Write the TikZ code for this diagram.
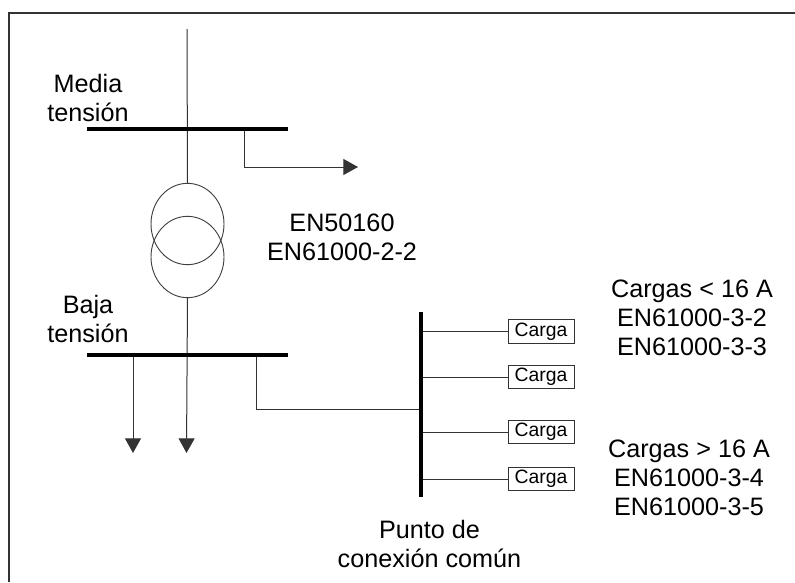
\documentclass[tikz,border=0pt]{standalone}
\usepackage{fontspec}
\setmainfont{Liberation Sans}
\usetikzlibrary{arrows.meta,shapes.geometric}
\begin{document}
\begin{tikzpicture}[
  x=0.75pt, y=-0.75pt,
  label/.style={align=center, inner sep=0pt, font=\fontsize{18.9pt}{21.75pt}\selectfont},
  carga/.style={draw=black!80, line width=0.7pt, inner sep=0pt, minimum width=49.5pt, minimum height=17.5pt, font=\fontsize{14.5pt}{16pt}\selectfont},
  winding/.style={ellipse, draw=black!75, line width=0.7pt, inner sep=0pt, minimum width=54.75pt, minimum height=61pt},
  bus/.style={line width=2.6pt, black},
  feeder/.style={line width=0.75pt, draw=black!80},
  load/.style={feeder, -{Triangle[length=11pt, width=12pt]}},
  >=stealth
]
  \useasboundingbox (0,0) rectangle (795,582);
  \draw[line width=1.5pt, black!80] (9,582) -- (9,13) -- (795,13);

  \coordinate (feed) at (187,29);
  \coordinate (mtleft) at (87,129);
  \coordinate (mtright) at (288,129);
  \coordinate (mttap) at (244,129);
  \coordinate (mtbend) at (244,167);
  \coordinate (mtend) at (358,167);
  \coordinate (btleft) at (87,355);
  \coordinate (btright) at (288,355);
  \coordinate (bttap) at (256,355);
  \coordinate (btbend) at (256,409);
  \coordinate (btload) at (133,355);
  \coordinate (btloadend) at (133,453);
  \coordinate (lowend) at (186.5,453);
  \coordinate (pcctop) at (421,312);
  \coordinate (pccbot) at (421,497);
  \coordinate (pccin) at (421,409);
  \coordinate (pcca) at (421,331.5);
  \coordinate (pccb) at (421,377);
  \coordinate (pccc) at (421,432);
  \coordinate (pccd) at (421,479);

  \node[winding] (upper) at (187.5,224) {};
  \node[winding] (lower) at (187.5,257) {};

  \node[carga] (cargaa) at (541,331.5) {Carga};
  \node[carga] (cargab) at (541,377) {Carga};
  \node[carga] (cargac) at (541,432) {Carga};
  \node[carga] (cargad) at (541,479) {Carga};

  \node[label] (media) at (88,98) {Media\\tensión};
  \node[label] (baja) at (88,319) {Baja\\tensión};
  \node[label] (enmt) at (342,237) {EN50160\\EN61000-2-2};
  \node[label] (menor) at (692,318) {Cargas < 16 A\\EN61000-3-2\\EN61000-3-3};
  \node[label] (mayor) at (689,478) {Cargas > 16 A\\EN61000-3-4\\EN61000-3-5};
  \node[label] (pcc) at (429.5,544) {Punto de\\conexión común};

  \draw[feeder] (feed) -- (upper.north);
  \draw[load] (lower.south) -- (lowend);
  \draw[feeder] (mttap) -- (mtbend);
  \draw[load] (mtbend) -- (mtend);
  \draw[load] (btload) -- (btloadend);
  \draw[feeder] (bttap) -- (btbend) -- (pccin);
  \draw[feeder] (pcca) -- (cargaa);
  \draw[feeder] (pccb) -- (cargab);
  \draw[feeder] (pccc) -- (cargac);
  \draw[feeder] (pccd) -- (cargad);

  \draw[bus] (mtleft) -- (mtright);
  \draw[bus] (btleft) -- (btright);
  \draw[bus] (pcctop) -- (pccbot);
\end{tikzpicture}
\end{document}
